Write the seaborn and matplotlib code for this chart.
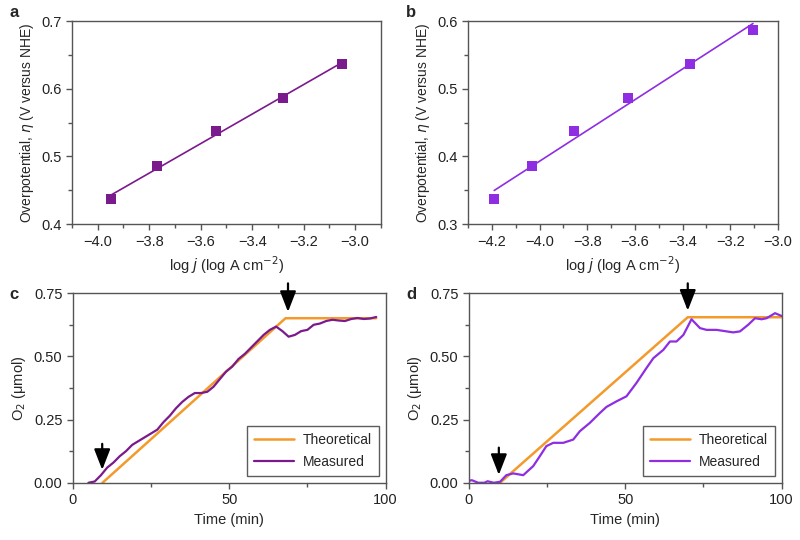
import numpy as np
import pandas as pd
import seaborn as sns
import matplotlib.pyplot as plt
from matplotlib.ticker import MultipleLocator

# Tafel data (panels a, b)
logj_a = [-3.95, -3.77, -3.54, -3.28, -3.05]
eta_a = [0.437, 0.486, 0.537, 0.587, 0.637]
logj_b = [-4.19, -4.03, -3.855, -3.63, -3.37, -3.105]
eta_b = [0.337, 0.386, 0.437, 0.487, 0.537, 0.587]

# O2 evolution (panel c)
theo_t_c = [9.5, 68, 97]
theo_o2_c = [0.0, 0.651, 0.651]
meas_t_c = [5, 7, 9, 11, 13, 15, 17, 19, 21, 23, 25, 27, 29, 31, 33, 35, 37, 39,
            41, 43, 45, 47, 49, 51, 53, 55, 57, 59, 61, 63, 65, 67, 69, 71, 73,
            75, 77, 79, 81, 83, 85, 87, 89, 91, 93, 95, 97]
meas_o2_c = [0.0, 0.005, 0.03, 0.06, 0.08, 0.105, 0.125, 0.15, 0.165, 0.18,
             0.195, 0.21, 0.24, 0.265, 0.295, 0.32, 0.34, 0.355, 0.355, 0.36,
             0.38, 0.41, 0.44, 0.46, 0.49, 0.51, 0.535, 0.56, 0.585, 0.605,
             0.618, 0.60, 0.578, 0.585, 0.60, 0.605, 0.625, 0.63, 0.64, 0.645,
             0.642, 0.64, 0.648, 0.652, 0.648, 0.65, 0.656]

# O2 evolution (panel d)
theo_t_d = [10, 70, 100]
theo_o2_d = [0.0, 0.655, 0.655]
meas_t_d = [0, 1, 3, 5, 6, 8, 10, 12, 14.2, 17.4, 20.6, 22.7, 24.8, 27, 30.2,
            33.4, 35.5, 38.7, 41.9, 44, 47.2, 50.4, 53.6, 56.8, 59, 62.2, 64.3,
            66.4, 68.6, 71.2, 73.9, 76, 79.2, 82.4, 84.5, 86.7, 89.3, 91.5,
            93.6, 95.2, 97.9, 100]
meas_o2_d = [0.008, 0.01, 0.0, 0.0, 0.006, 0.0, 0.004, 0.03, 0.037, 0.03,
             0.066, 0.105, 0.145, 0.158, 0.158, 0.171, 0.204, 0.237, 0.276,
             0.30, 0.322, 0.342, 0.395, 0.454, 0.493, 0.526, 0.559, 0.559,
             0.585, 0.647, 0.612, 0.605, 0.605, 0.599, 0.595, 0.599, 0.625,
             0.651, 0.647, 0.651, 0.671, 0.66]

# arrows: (x, tip y, tail y)
arrows_c = [(9.4, 0.04, 0.165), (68.8, 0.665, 0.80)]
arrows_d = [(9.6, 0.02, 0.15), (70, 0.67, 0.80)]

purple = '#7b1a8c'
violet = '#8e2de2'
orange = '#f39a2b'
frame = '#555555'

sns.set_style('white')
plt.rcParams['font.family'] = ['Liberation Sans', 'DejaVu Sans']
plt.rcParams['font.size'] = 10.5

fig = plt.figure(figsize=(8, 5.4), dpi=100)
ax_a = fig.add_axes([0.09, 0.585, 0.386, 0.376])
ax_b = fig.add_axes([0.585, 0.585, 0.3875, 0.376])
ax_c = fig.add_axes([0.091, 0.106, 0.391, 0.351])
ax_d = fig.add_axes([0.586, 0.106, 0.391, 0.351])


def style_axes(ax):
    for s in ax.spines.values():
        s.set_color(frame)
        s.set_linewidth(1.0)
    ax.tick_params(which='both', direction='out', bottom=True, left=True,
                   top=False, right=False, color=frame, labelsize=10.5,
                   labelcolor='#222222')
    ax.tick_params(which='major', length=4, width=1)
    ax.tick_params(which='minor', length=3, width=1)


def tafel(ax, x, y, color, xlim, ylim, xt):
    df = pd.DataFrame({'x': x, 'y': y})
    k, b = np.polyfit(df.x, df.y, 1)
    fit = pd.DataFrame({'x': [df.x.min(), df.x.max()]})
    fit['y'] = k * fit.x + b
    sns.lineplot(data=fit, x='x', y='y', color=color, lw=1.2, ax=ax)
    sns.scatterplot(data=df, x='x', y='y', marker='s', s=55, color=color,
                    edgecolor=color, linewidth=0, ax=ax, zorder=3)
    ax.set_xlim(*xlim)
    ax.set_ylim(*ylim)
    ax.set_xticks(xt)
    ax.set_xticklabels([f'{v:.1f}'.replace('-', '\u2212') for v in xt])
    ax.xaxis.set_minor_locator(MultipleLocator(0.1))
    ax.set_yticks([ylim[0] + 0.1 * i for i in range(4)])
    ax.set_yticklabels([f'{ylim[0] + 0.1 * i:.1f}' for i in range(4)])
    ax.yaxis.set_minor_locator(MultipleLocator(0.05))
    ax.set_xlabel('log $j$ (log A cm$^{\u22122}$)', fontsize=10.5)
    ax.set_ylabel('Overpotential, $\\eta$ (V versus NHE)', fontsize=10)
    style_axes(ax)


def o2(ax, tt, yt, tm, ym, color, arrows):
    theo = pd.DataFrame({'t': tt, 'o2': yt})
    meas = pd.DataFrame({'t': tm, 'o2': ym})
    sns.lineplot(data=theo, x='t', y='o2', color=orange, lw=1.8, ax=ax,
                 label='Theoretical')
    sns.lineplot(data=meas, x='t', y='o2', color=color, lw=1.6, ax=ax,
                 label='Measured')
    ax.set_xlim(0, 100)
    ax.set_ylim(0, 0.75)
    ax.set_xticks([0, 50, 100])
    ax.xaxis.set_minor_locator(MultipleLocator(25))
    ax.set_yticks([0, 0.25, 0.5, 0.75])
    ax.set_yticklabels(['0.00', '0.25', '0.50', '0.75'])
    ax.yaxis.set_minor_locator(MultipleLocator(0.125))
    ax.set_xlabel('Time (min)', fontsize=10.5)
    ax.set_ylabel('O$_2$ (\u03bcmol)', fontsize=10.5)
    for x, tip, tail in arrows:
        ax.annotate('', xy=(x, tip), xytext=(x, tail), annotation_clip=False,
                    arrowprops=dict(arrowstyle='-|>,head_width=0.35,head_length=0.9',
                                    color='black', lw=1.6, mutation_scale=14))
    leg = ax.legend(loc='lower right', frameon=True, fancybox=False,
                    handlelength=2.9, fontsize=10, borderpad=0.5,
                    labelspacing=0.6, borderaxespad=0.5, handletextpad=0.6)
    leg.get_frame().set_edgecolor('#333333')
    leg.get_frame().set_linewidth(1.0)
    style_axes(ax)


tafel(ax_a, logj_a, eta_a, purple, (-4.1, -2.9), (0.4, 0.7),
      [-4.0, -3.8, -3.6, -3.4, -3.2, -3.0])
tafel(ax_b, logj_b, eta_b, violet, (-4.3, -3.0), (0.3, 0.6),
      [-4.2, -4.0, -3.8, -3.6, -3.4, -3.2, -3.0])
o2(ax_c, theo_t_c, theo_o2_c, meas_t_c, meas_o2_c, purple, arrows_c)
o2(ax_d, theo_t_d, theo_o2_d, meas_t_d, meas_o2_d, violet, arrows_d)

for lbl, (x, y) in zip('abcd', [(0.012, 0.977), (0.508, 0.977),
                                 (0.012, 0.455), (0.508, 0.455)]):
    fig.text(x, y, lbl, fontsize=12, fontweight='bold', ha='left', va='center')

fig.savefig('out.png', dpi=100)
